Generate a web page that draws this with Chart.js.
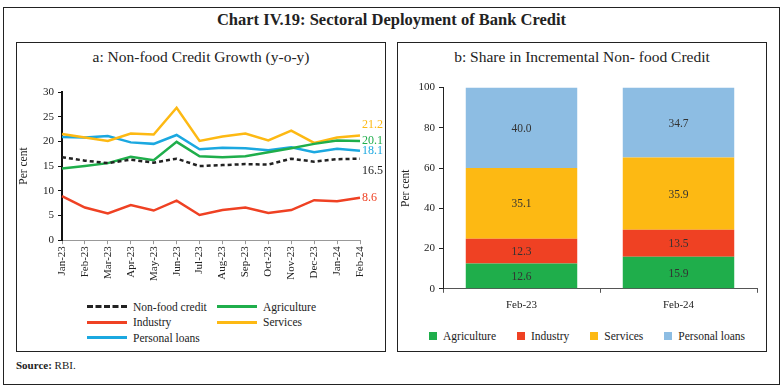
<!DOCTYPE html>
<html lang="en">
<head>
<meta charset="UTF-8">
<title>Chart IV.19</title>
<script src="https://cdn.jsdelivr.net/npm/chart.js"></script>
<style>
    body { margin: 0; background: #fff; font-family: 'Liberation Serif', serif; color: #222; }
    #wrap { position: relative; width: 783px; height: 388px; overflow: hidden; }
    .box { position: absolute; border: 1.5px solid #222; box-sizing: border-box; }
    .txt { position: absolute; white-space: nowrap; }
    canvas { position: absolute; }
    .lg-item { display: flex; align-items: center; font-size: 11.5px; height: 15.5px; }
    .lg-line { width: 40px; height: 0; margin-right: 6px; }
    .lg-box { width: 8px; height: 8px; margin-right: 6px; }
</style>
<script>
    // chart a : non-food credit growth (y-o-y), per cent
    let months = ['Jan-23','Feb-23','Mar-23','Apr-23','May-23','Jun-23','Jul-23','Aug-23','Sep-23','Oct-23','Nov-23','Dec-23','Jan-24','Feb-24'];
    let nonFood       = [16.8, 16.1, 15.6, 16.3, 15.7, 16.5, 15.0, 15.2, 15.4, 15.3, 16.5, 15.9, 16.4, 16.5];
    let agriculture   = [14.5, 15.0, 15.6, 16.9, 16.2, 19.9, 17.0, 16.8, 17.0, 17.8, 18.6, 19.5, 20.2, 20.1];
    let industry      = [8.9, 6.6, 5.4, 7.1, 6.0, 8.0, 5.1, 6.1, 6.6, 5.5, 6.1, 8.1, 7.9, 8.6];
    let services      = [21.5, 20.8, 20.1, 21.6, 21.4, 26.8, 20.1, 21.0, 21.6, 20.2, 22.2, 19.7, 20.8, 21.2];
    let personalLoans = [20.9, 20.8, 21.1, 19.8, 19.5, 21.3, 18.4, 18.7, 18.6, 18.2, 18.8, 17.8, 18.5, 18.1];
    let growthTicks = [0, 5, 10, 15, 20, 25, 30];

    // chart b : share in incremental non-food credit, per cent
    let periods = ['Feb-23', 'Feb-24'];
    let shareAgri     = [12.6, 15.9];
    let shareIndustry = [12.3, 13.5];
    let shareServices = [35.1, 35.9];
    let sharePersonal = [40.0, 34.7];
    let shareTicks = [0, 20, 40, 60, 80, 100];

    let cGreen = '#1fae4b', cRed = '#ef4123', cYellow = '#fdb913', cBlue = '#1ba8e0', cLightBlue = '#8dbde3';
</script>
</head>
<body>
<div id="wrap">
    <div class="box" style="left:3px; top:7px; width:777px; height:378px;"></div>
    <div class="txt" style="left:0; width:783px; text-align:center; top:10px; font-size:16.5px; font-weight:bold;">Chart IV.19: Sectoral Deployment of Bank Credit</div>

    <div class="box" style="left:16px; top:42px; width:370px; height:310px;"></div>
    <div class="txt" style="left:16px; width:370px; text-align:center; top:48px; font-size:15.5px;">a: Non-food Credit Growth (y-o-y)</div>
    <canvas id="lineChart" style="left:17px; top:80px;" width="368" height="203"></canvas>
    <div id="legendA" style="position:absolute; left:87px; top:299px; display:grid; grid-template-columns:130px 130px;"></div>

    <div class="box" style="left:397px; top:42px; width:370px; height:310px;"></div>
    <div class="txt" style="left:397px; width:370px; text-align:center; top:48px; font-size:15.5px;">b: Share in Incremental Non- food Credit</div>
    <canvas id="barChart" style="left:397px; top:77px;" width="369" height="241"></canvas>
    <div id="legendB" style="position:absolute; left:429px; top:328px; display:flex;"></div>

    <div class="txt" style="left:16px; top:359px; font-size:11px;"><b>Source:</b> RBI.</div>
</div>

<script>
    Chart.defaults.font.family = "'Liberation Serif', serif";
    Chart.defaults.color = '#222';
    Chart.defaults.font.size = 11;

    let lineSets = [
        { label: 'Non-food credit', data: nonFood, borderColor: '#222', borderDash: [4, 3], endDy: 12 },
        { label: 'Agriculture', data: agriculture, borderColor: cGreen, endDy: 0 },
        { label: 'Industry', data: industry, borderColor: cRed, endDy: 0 },
        { label: 'Services', data: services, borderColor: cYellow, endDy: -11 },
        { label: 'Personal loans', data: personalLoans, borderColor: cBlue, endDy: 0 }
    ];

    // value of the last point written at the right end of each line
    let endLabels = {
        id: 'endLabels',
        afterDatasetsDraw(chart) {
            let ctx = chart.ctx;
            ctx.save();
            ctx.font = "12px 'Liberation Serif'";
            ctx.textBaseline = 'middle';
            chart.data.datasets.forEach(function(ds, i) {
                let pts = chart.getDatasetMeta(i).data;
                let p = pts[pts.length - 1];
                ctx.fillStyle = ds.borderColor;
                ctx.fillText(ds.data[ds.data.length - 1].toFixed(1), p.x + 2, p.y + ds.endDy);
            });
            ctx.restore();
        }
    };

    new Chart(document.getElementById('lineChart'), {
        type: 'line',
        data: {
            labels: months,
            datasets: lineSets.map(function(s) {
                return Object.assign({ borderWidth: 2.5, pointRadius: 0, tension: 0, fill: false }, s);
            })
        },
        options: {
            responsive: false,
            animation: false,
            layout: { padding: { top: 12, right: 25, left: 0, bottom: 0 } },
            plugins: { legend: { display: false }, tooltip: { enabled: false } },
            scales: {
                x: {
                    border: { color: '#999', width: 1 },
                    grid: { drawOnChartArea: false, tickLength: 4, color: '#999' },
                    ticks: { minRotation: 90, maxRotation: 90, autoSkip: false, padding: 2 }
                },
                y: {
                    min: 0, max: 30,
                    afterFit: function(s) { s.width = 45; },
                    afterBuildTicks: function(s) { s.ticks = growthTicks.map(function(v) { return { value: v }; }); },
                    border: { color: '#111', width: 2 },
                    grid: { drawOnChartArea: false, tickLength: 4, color: '#111' },
                    ticks: { padding: 4 },
                    title: { display: true, text: 'Per cent', padding: 0, font: { size: 11.5 } }
                }
            }
        },
        plugins: [endLabels]
    });

    // legend for chart a
    let legA = document.getElementById('legendA');
    lineSets.forEach(function(s) {
        let d = document.createElement('div');
        d.className = 'lg-item';
        let style = s.borderDash ? 'dashed' : 'solid';
        d.innerHTML = '<span class="lg-line" style="border-top:3px ' + style + ' ' + s.borderColor + '"></span>' + s.label;
        legA.appendChild(d);
    });

    let barSets = [
        { label: 'Agriculture', data: shareAgri, backgroundColor: cGreen },
        { label: 'Industry', data: shareIndustry, backgroundColor: cRed },
        { label: 'Services', data: shareServices, backgroundColor: cYellow },
        { label: 'Personal loans', data: sharePersonal, backgroundColor: cLightBlue }
    ];

    let barLabels = {
        id: 'barLabels',
        afterDatasetsDraw(chart) {
            let ctx = chart.ctx;
            ctx.save();
            ctx.font = "11.5px 'Liberation Serif'";
            ctx.fillStyle = '#333';
            ctx.textAlign = 'center';
            ctx.textBaseline = 'middle';
            chart.data.datasets.forEach(function(ds, i) {
                chart.getDatasetMeta(i).data.forEach(function(bar, j) {
                    ctx.fillText(ds.data[j].toFixed(1), bar.x, (bar.y + bar.base) / 2 + 1);
                });
            });
            ctx.restore();
        }
    };

    new Chart(document.getElementById('barChart'), {
        type: 'bar',
        data: {
            labels: periods,
            datasets: barSets.map(function(s) {
                return Object.assign({ categoryPercentage: 1, barPercentage: 0.71, borderWidth: 0 }, s);
            })
        },
        options: {
            responsive: false,
            animation: false,
            layout: { padding: { top: 4, right: 9, left: 0, bottom: 0 } },
            plugins: { legend: { display: false }, tooltip: { enabled: false } },
            scales: {
                x: {
                    stacked: true,
                    border: { color: '#555', width: 1 },
                    grid: { drawOnChartArea: false, tickLength: 4, color: '#555' },
                    ticks: { padding: 6 }
                },
                y: {
                    stacked: true,
                    min: 0, max: 100,
                    afterFit: function(s) { s.width = 46; },
                    afterBuildTicks: function(s) { s.ticks = shareTicks.map(function(v) { return { value: v }; }); },
                    border: { color: '#222', width: 1 },
                    grid: { drawOnChartArea: false, tickLength: 4, color: '#222' },
                    ticks: { padding: 4 },
                    title: { display: true, text: 'Per cent', padding: 2, font: { size: 11.5 } }
                }
            }
        },
        plugins: [barLabels]
    });

    // legend for chart b
    let legB = document.getElementById('legendB');
    barSets.forEach(function(s) {
        let d = document.createElement('div');
        d.className = 'lg-item';
        d.style.marginRight = '21px';
        d.innerHTML = '<span class="lg-box" style="background:' + s.backgroundColor + '"></span>' + s.label;
        legB.appendChild(d);
    });
</script>
</body>
</html>
